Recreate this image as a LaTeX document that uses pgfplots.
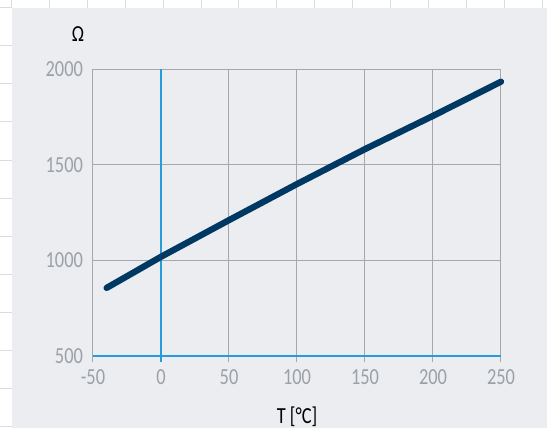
\documentclass[border=0pt]{standalone}
\usepackage{fontspec}
\setmainfont{Carlito}[FakeStretch=0.8]
\usepackage{pgfplots}
\pgfplotsset{compat=1.18}
\definecolor{panel}{RGB}{235,237,240}
\definecolor{sheetline}{RGB}{218,220,224}
\definecolor{gridgray}{RGB}{165,169,173}
\definecolor{axblue}{RGB}{38,156,218}
\definecolor{navy}{RGB}{0,56,100}
\definecolor{ticktxt}{RGB}{156,161,166}
\pgfplotsset{base/.style={
  at={(93pt,72.3pt)}, anchor=south west,
  scale only axis, width=408pt, height=286.4pt,
  xmin=-50, xmax=250, ymin=500, ymax=2000}}
\begin{document}
\begin{tikzpicture}[x=1pt,y=1pt]
\useasboundingbox (0,0) rectangle (547,428);
\fill[white] (0,0) rectangle (547,428);
\foreach \k in {0,...,14} \draw[sheetline, line width=1pt] ({11.5+37.9*\k},428) -- ({11.5+37.9*\k},420.3);
\foreach \k in {0,...,11} \draw[sheetline, line width=1pt] (0,{420.3-38.1*\k}) -- (11.5,{420.3-38.1*\k});
\fill[panel] (11.5,0) rectangle (547,420.3);
\begin{axis}[
  base,
  xtick={-50,0,50,100,150,200,250},
  ytick={500,1000,1500,2000},
  grid=major,
  major grid style={gridgray, line width=1pt},
  axis line style={gridgray, line width=1pt},
  xtick pos=bottom, ytick pos=left, tick align=outside,
  x tick style={gridgray, line width=1pt},
  major tick length=6.5pt,
  y tick style={draw=none},
  ticklabel style={font=\fontsize{23}{27}\selectfont, text=ticktxt},
  xticklabel style={yshift=-4pt},
  /pgf/number format/assume math mode=true,
  /pgf/number format/1000 sep={},
  xlabel={T [°C]},
  xlabel style={font=\fontsize{23}{27}\selectfont, text=black,
    at={(axis description cs:0.5,0)}, anchor=base, yshift=-67.5pt},
]
\end{axis}
\begin{axis}[base, hide axis, clip=false]
\addplot[axblue, line width=1.8pt] coordinates {(0,466) (0,2000)};
\addplot[axblue, line width=1.8pt] coordinates {(-50,500) (250,500)};
\addplot[navy, line width=6.3pt, line cap=round, line join=round] coordinates {
  (-40,855) (0,1018) (50,1210) (100,1399) (150,1582) (200,1756) (250,1935)
};
\end{axis}
\node[text=black, font=\fontsize{23}{27}\selectfont] at (78,394) {Ω};
\end{tikzpicture}
\end{document}
